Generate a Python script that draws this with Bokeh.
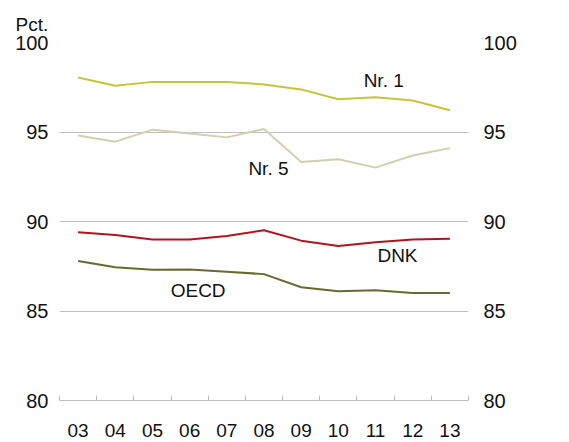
from bokeh.plotting import figure
from bokeh.models import FixedTicker, LinearAxis, Label, Range1d
from bokeh.embed import file_html
from bokeh.resources import INLINE

years = ["03", "04", "05", "06", "07", "08", "09", "10", "11", "12", "13"]
nr1 = [98.05, 97.58, 97.80, 97.80, 97.80, 97.66, 97.38, 96.83, 96.94, 96.76, 96.21]
nr5 = [94.81, 94.46, 95.13, 94.92, 94.70, 95.17, 93.33, 93.48, 93.01, 93.69, 94.10]
dnk = [89.40, 89.25, 88.99, 88.99, 89.19, 89.51, 88.93, 88.63, 88.84, 88.99, 89.03]
oecd = [87.79, 87.45, 87.30, 87.32, 87.19, 87.06, 86.33, 86.10, 86.16, 86.01, 86.01]
y_ticks = [80, 85, 90, 95, 100]

FONT = "Liberation Sans"
xs = [i + 0.5 for i in range(len(years))]

p = figure(width=569, height=442, output_backend="svg", toolbar_location=None,
           x_range=Range1d(0, len(years)), y_range=Range1d(80, 100),
           min_border_left=59, min_border_right=101, min_border_top=42, min_border_bottom=42,
           y_axis_location=None)
p.outline_line_color = None
p.background_fill_color = "white"

p.title.text = "Pct."
p.title.text_font = FONT
p.title.text_font_size = "19px"
p.title.text_font_style = "normal"
p.title.text_color = "#111111"
p.title.offset = -44
p.title.standoff = 16

# x axis
xa = p.xaxis[0]
xa.ticker = FixedTicker(ticks=xs, minor_ticks=list(range(len(years) + 1)))
xa.major_label_overrides = {x: y for x, y in zip(xs, years)}
xa.major_tick_line_color = None
xa.minor_tick_line_color = "#bfbfbf"
xa.minor_tick_in = 5
xa.minor_tick_out = 0
xa.axis_line_color = "#bfbfbf"
xa.major_label_text_font = FONT
xa.major_label_text_font_size = "19px"
xa.major_label_text_color = "#111111"
xa.major_label_standoff = 17

for loc, standoff in (("left", 11), ("right", 15)):
    ax = LinearAxis(ticker=FixedTicker(ticks=y_ticks))
    ax.axis_line_color = None
    ax.major_tick_line_color = None
    ax.major_tick_out = 0
    ax.major_tick_in = 0
    ax.minor_tick_line_color = None
    ax.minor_tick_out = 0
    ax.major_label_text_font = FONT
    ax.major_label_text_font_size = "20px"
    ax.major_label_text_color = "#111111"
    ax.major_label_standoff = standoff
    p.add_layout(ax, loc)

p.xgrid.grid_line_color = None
p.ygrid.ticker = FixedTicker(ticks=y_ticks)
p.ygrid.grid_line_color = "#c0c0c0"
p.ygrid.grid_line_width = 1

p.line(xs, oecd, line_color="#6b6830", line_width=2)
p.line(xs, dnk, line_color="#b0141e", line_width=2)
p.line(xs, nr5, line_color="#d6ccb0", line_width=2)
p.line(xs, nr1, line_color="#c8c43a", line_width=2)

for txt, x, y in (("Nr. 1", 8.18, 97.88), ("Nr. 5", 5.08, 92.96),
                  ("DNK", 8.55, 88.1), ("OECD", 2.99, 86.15)):
    p.add_layout(Label(x=x, y=y, text=txt, text_font=FONT, text_font_size="19px",
                       text_color="#111111", text_baseline="middle"))

open("out.html", "w").write(file_html(p, INLINE))
